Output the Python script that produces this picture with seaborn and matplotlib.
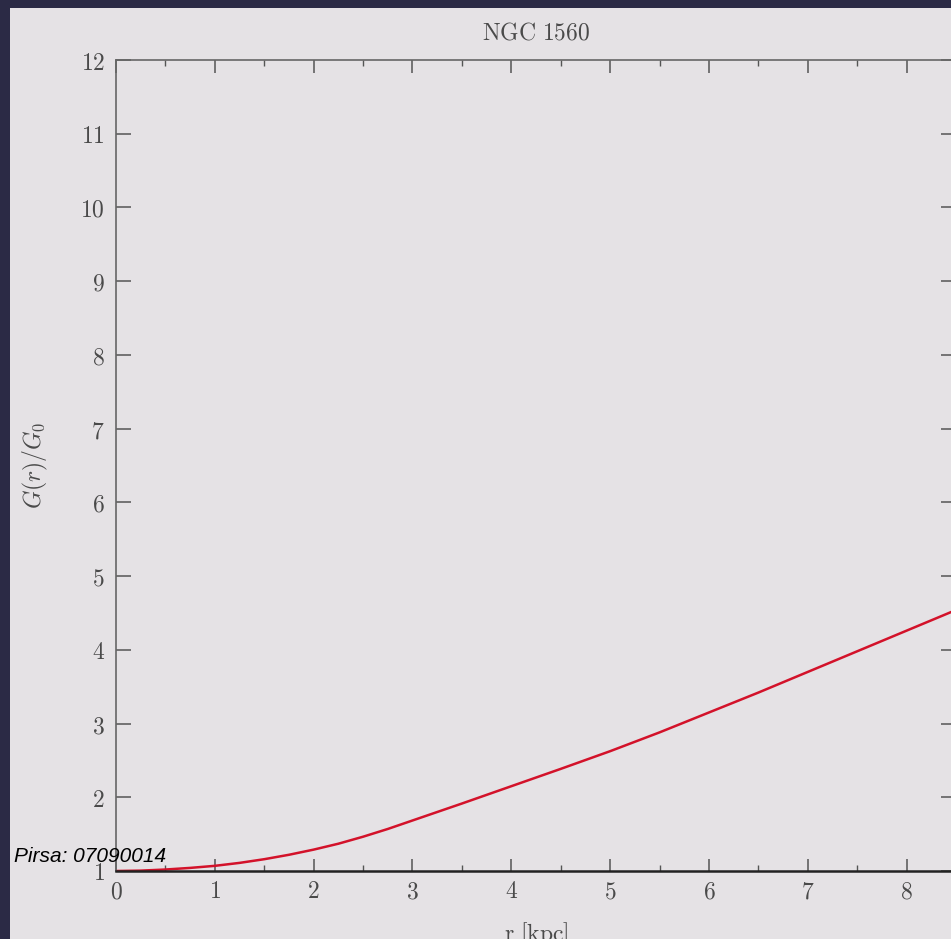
import matplotlib
matplotlib.use("Agg")
import matplotlib.pyplot as plt
from matplotlib.patches import Rectangle
from matplotlib.ticker import MultipleLocator, FuncFormatter
import seaborn as sns
import pandas as pd

# Radius (kpc) and the ratio G(r)/G0 for NGC 1560
radius_kpc = [0.0, 0.25, 0.5, 0.75, 1.0, 1.25, 1.5, 1.75, 2.0, 2.25, 2.5, 2.75,
              3.0, 3.5, 4.0, 4.5, 5.0, 5.5, 6.0, 6.5, 7.0, 7.5, 8.0, 8.5]
g_ratio = [1.000, 1.005, 1.020, 1.042, 1.070, 1.110, 1.160, 1.220, 1.290, 1.370,
           1.465, 1.570, 1.685, 1.915, 2.150, 2.385, 2.625, 2.880, 3.150, 3.420,
           3.700, 3.980, 4.260, 4.540]

x_ticks = [0, 1, 2, 3, 4, 5, 6, 7, 8]
y_ticks = [1, 2, 3, 4, 5, 6, 7, 8, 9, 10, 11, 12]

title_text = "NGC 1560"
source_text = "Pirsa: 07090014"

sns.set_style("ticks")
plt.rcParams["mathtext.fontset"] = "cm"

W, H = 951, 939
fig = plt.figure(figsize=(W / 100, H / 100), dpi=100, facecolor="#2b2a45")

panel = "#e5e2e5"
fig.patches.append(Rectangle((10 / W, 0), 1, 1 - 8 / H, transform=fig.transFigure,
                             facecolor=panel, edgecolor="none", zorder=-5))

left, right, top, bottom = 116, 956, 60, 871
ax = fig.add_axes([left / W, 1 - bottom / H, (right - left) / W, (bottom - top) / H])
ax.set_facecolor(panel)

df = pd.DataFrame({"r": radius_kpc, "G": g_ratio})
sns.lineplot(data=df, x="r", y="G", ax=ax, color="#d3122a", linewidth=1.8)

ax.set_xlim(0, 8.5)
ax.set_ylim(1, 12)
ax.set_xticks(x_ticks)
ax.set_yticks(y_ticks)
ax.xaxis.set_minor_locator(MultipleLocator(0.5))

math_fmt = FuncFormatter(lambda v, p: r"$%d$" % round(v))
ax.xaxis.set_major_formatter(math_fmt)
ax.yaxis.set_major_formatter(math_fmt)

tick_col = "#4a4a4a"
ax.tick_params(axis="x", which="major", direction="in", length=9, width=1.1,
               top=True, bottom=True, color="#555555", labelsize=17,
               labelcolor=tick_col, pad=6)
ax.tick_params(axis="x", which="minor", direction="in", length=4.5, width=1.0,
               top=True, bottom=True, color="#555555")
ax.tick_params(axis="y", which="major", direction="in", length=11, width=1.1,
               left=True, right=True, color="#555555", labelsize=17,
               labelcolor=tick_col, pad=8)

for side in ["top", "left", "right"]:
    ax.spines[side].set_color("#666666")
    ax.spines[side].set_linewidth(1.2)
ax.spines["bottom"].set_color("#222222")
ax.spines["bottom"].set_linewidth(1.8)

ax.set_title(r"$\mathrm{NGC\ 1560}$", fontsize=17, color="#4a4a4a", pad=15)
ax.set_xlabel(r"$\mathrm{r\ [kpc]}$", fontsize=17, color="#4a4a4a", labelpad=12)
ax.set_ylabel(r"$G(r)/G_0$", fontsize=17, color="#4a4a4a", labelpad=22)

fig.text(14 / W, 1 - 857 / H, source_text, fontsize=15, fontstyle="italic",
         family="Liberation Sans", color="black", va="center", ha="left")

fig.savefig("out.png", dpi=100, facecolor=fig.get_facecolor())
